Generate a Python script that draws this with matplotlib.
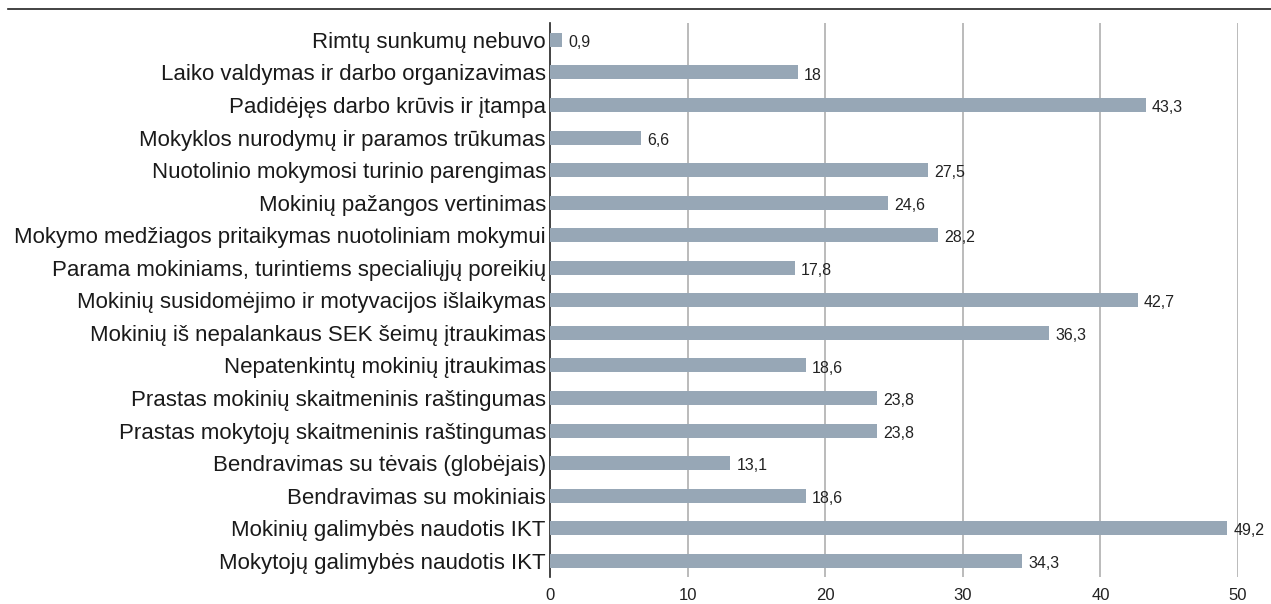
import matplotlib.pyplot as plt
import numpy as np

plt.rcParams["font.family"] = ["Liberation Sans", "DejaVu Sans"]

# sunkumai, % mokytojų (iš viršaus į apačią)
categories = [
    "Rimtų sunkumų nebuvo",
    "Laiko valdymas ir darbo organizavimas",
    "Padidėjęs darbo krūvis ir įtampa",
    "Mokyklos nurodymų ir paramos trūkumas",
    "Nuotolinio mokymosi turinio parengimas",
    "Mokinių pažangos vertinimas",
    "Mokymo medžiagos pritaikymas nuotoliniam mokymui",
    "Parama mokiniams, turintiems specialiųjų poreikių",
    "Mokinių susidomėjimo ir motyvacijos išlaikymas",
    "Mokinių iš nepalankaus SEK šeimų įtraukimas",
    "Nepatenkintų mokinių įtraukimas",
    "Prastas mokinių skaitmeninis raštingumas",
    "Prastas mokytojų skaitmeninis raštingumas",
    "Bendravimas su tėvais (globėjais)",
    "Bendravimas su mokiniais",
    "Mokinių galimybės naudotis IKT",
    "Mokytojų galimybės naudotis IKT",
]
values = [0.9, 18, 43.3, 6.6, 27.5, 24.6, 28.2, 17.8, 42.7, 36.3,
          18.6, 23.8, 23.8, 13.1, 18.6, 49.2, 34.3]
xticks = [0, 10, 20, 30, 40, 50]

fig = plt.figure(figsize=(12.71, 6.04), dpi=100)
ax = fig.add_axes([550 / 1271, 1 - 577 / 604, (1238 - 550) / 1271, (577 - 23) / 604])

y = np.arange(len(categories))
ax.barh(y, values, height=0.43, color="#97a7b6", zorder=3)
for yi, v in zip(y, values):
    ax.text(v + 0.45, yi + 0.08, f"{v:g}".replace(".", ","), va="center", ha="left",
            fontsize=11.5, color="#222222", zorder=4)

ax.set_ylim(len(categories) - 0.5, -0.52)
ax.set_xlim(0, 50)
ax.set_yticks(y)
ax.set_yticklabels(categories, fontsize=16, color="#1a1a1a")
ax.set_xticks(xticks)
ax.set_xticklabels([str(t) for t in xticks], fontsize=12, color="#222222")
ax.tick_params(axis="both", length=0)
ax.tick_params(axis="y", pad=3)
ax.tick_params(axis="x", pad=8)

for t in xticks[1:]:
    ax.axvline(t, color="#b5b5b5", lw=1.3, zorder=1)
for s in ["top", "right", "bottom"]:
    ax.spines[s].set_visible(False)
ax.spines["left"].set_color("#222222")
ax.spines["left"].set_linewidth(1.2)

# linija viršuje
fig.add_artist(plt.Line2D([8 / 1271, 1], [1 - 9 / 604, 1 - 9 / 604],
                          transform=fig.transFigure, color="#222222", lw=1.2))

fig.savefig("out.png", dpi=100)
